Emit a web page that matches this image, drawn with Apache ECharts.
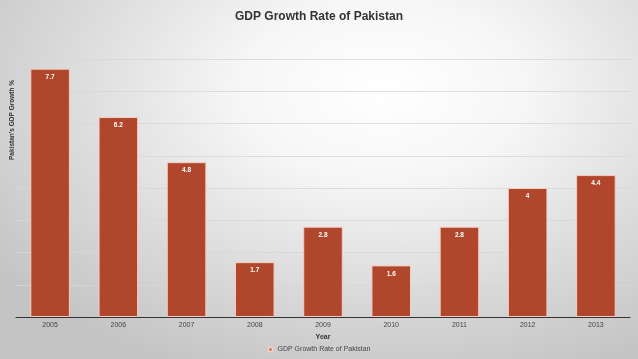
<!DOCTYPE html>
<html><head><meta charset="utf-8">
<script src="https://cdn.jsdelivr.net/npm/echarts@6/dist/echarts.min.js"></script>
<style>
html,body{margin:0;padding:0;}
#c{width:638px;height:359px;background:radial-gradient(ellipse 75% 85% at 60% 25%, #ffffff 0%, #f6f6f6 30%, #d8d8d8 70%, #c4c4c4 100%);}
</style></head>
<body><div id="c"></div>
<script>
var years = ['2005','2006','2007','2008','2009','2010','2011','2012','2013'];
var growth = [7.7, 6.2, 4.8, 1.7, 2.8, 1.6, 2.8, 4, 4.4];
var seriesName = 'GDP Growth Rate of Pakistan';
var chart = echarts.init(document.getElementById('c'), null, {renderer:'canvas'});
chart.setOption({
  backgroundColor: 'transparent',
  animation: false,
  title: {text: 'GDP Growth Rate of Pakistan', left: 'center', top: 6,
    textStyle: {fontFamily: 'Liberation Sans', fontSize: 12, fontWeight: 'bold', color: '#333'}},
  legend: {bottom: 1, left: 'center', itemWidth: 4, itemHeight: 4, icon: 'rect',
    textStyle: {fontFamily: 'Liberation Sans', fontSize: 7, color: '#444'}, data: [seriesName]},
  grid: {left: 16, right: 8, top: 59, bottom: 42, containLabel: false, outerBoundsMode: 'none'},
  xAxis: {type: 'category', data: years, name: 'Year', nameLocation: 'middle', nameGap: 11,
    nameTextStyle: {fontFamily: 'Liberation Sans', fontSize: 7, fontWeight: 'bold', color: '#333'},
    axisLine: {lineStyle: {color: '#333', width: 1}}, axisTick: {show: false},
    axisLabel: {fontFamily: 'Liberation Sans', fontSize: 7, color: '#444', margin: 5}},
  yAxis: {type: 'value', min: 0, max: 8, interval: 1,
    name: "Pakistan's GDP Growth %", nameLocation: 'middle', nameGap: 0,
    nameTextStyle: {fontFamily: 'Liberation Sans', fontSize: 6.5, fontWeight: 'bold', color: '#333', padding: [0,0,0,136]},
    axisLine: {show: false}, axisTick: {show: false}, axisLabel: {show: false},
    splitLine: {lineStyle: {color: 'rgba(215,215,215,0.8)', width: 1}}},
  series: [{name: seriesName, type: 'bar', data: growth, barWidth: '58%',
    itemStyle: {color: '#b0472c', borderColor: '#f3cfc2', borderWidth: 1},
    label: {show: true, position: 'insideTop', distance: 5, fontFamily: 'Liberation Sans', fontSize: 6.5, fontWeight: 'bold', color: '#fff'}}]
});
</script></body></html>
